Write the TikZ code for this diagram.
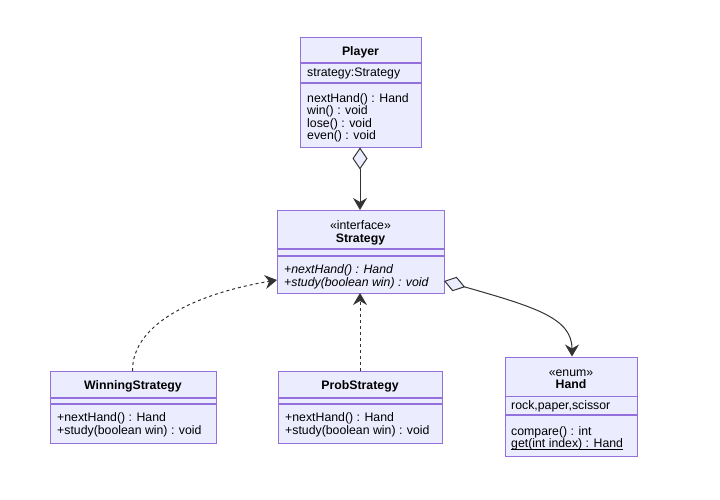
\documentclass[tikz,border=0pt]{standalone}
\usepackage{fontspec}
\setmainfont{Liberation Sans}
\usetikzlibrary{arrows.meta,calc}
\definecolor{boxfill}{HTML}{ECECFF}
\definecolor{boxline}{HTML}{9370DB}
\definecolor{edge}{HTML}{333333}
\begin{document}
\begin{tikzpicture}[x=1pt,y=-1pt,
  umlbox/.style={draw=boxline, fill=boxfill, line width=1.2pt, anchor=north west, inner sep=0pt},
  sep/.style={draw=boxline, line width=1.2pt},
  txt/.style={inner sep=0pt, yshift=-1.5pt, font=\fontsize{12.3}{13}\selectfont, text=black},
  lt/.style={txt, anchor=mid west},
  ct/.style={txt, anchor=mid},
  bt/.style={txt, anchor=mid, font=\fontsize{12.3}{13}\selectfont\bfseries},
  conn/.style={draw=edge, line width=1pt},
  headtip/.style={-{Stealth[length=12pt,width=14pt,inset=4pt]}},
  aggr/.style={{Diamond[open, fill=boxfill, length=22pt, width=15pt]}-{Stealth[length=12pt,width=14pt,inset=4pt]}}
]
\useasboundingbox (0,0) rectangle (720,500);
\fill[white] (0,0) rectangle (720,500);

% Player
\node[umlbox, minimum width=121pt, minimum height=110pt] (player) at (300,37) {};
\draw[sep] (300,63) -- (421,63);
\draw[sep] (300,83) -- (421,83);
\node[bt] (playerT) at (360.5,51) {Player};
\node[lt] (playerA) at (307,72) {strategy:Strategy};
\node[lt] (playerM1) at (307,98.5) {nextHand() : Hand};
\node[lt] (playerM2) at (307,110.5) {win() : void};
\node[lt] (playerM3) at (307,123) {lose() : void};
\node[lt] (playerM4) at (307,135) {even() : void};

% Strategy
\node[umlbox, minimum width=167pt, minimum height=83pt] (strategy) at (277,210) {};
\draw[sep] (277,249) -- (444,249);
\draw[sep] (277,256) -- (444,256);
\node[ct] (strategyS) at (360.5,225) {«interface»};
\node[bt] (strategyT) at (360.5,238) {Strategy};
\node[lt, font=\fontsize{12.3}{13}\selectfont\itshape] (strategyM1) at (284,269) {+nextHand() : Hand};
\node[lt, font=\fontsize{12.3}{13}\selectfont\itshape] (strategyM2) at (284,282) {+study(boolean win) : void};

% WinningStrategy
\node[umlbox, minimum width=166pt, minimum height=72pt] (winning) at (50,371) {};
\draw[sep] (50,398) -- (216,398);
\draw[sep] (50,404) -- (216,404);
\node[bt] (winningT) at (133,385) {WinningStrategy};
\node[lt] (winningM1) at (57,417) {+nextHand() : Hand};
\node[lt] (winningM2) at (57,430.5) {+study(boolean win) : void};

% ProbStrategy
\node[umlbox, minimum width=164pt, minimum height=72pt] (prob) at (278,371) {};
\draw[sep] (278,398) -- (442,398);
\draw[sep] (278,404) -- (442,404);
\node[bt] (probT) at (360,385) {ProbStrategy};
\node[lt] (probM1) at (285,417) {+nextHand() : Hand};
\node[lt] (probM2) at (285,430.5) {+study(boolean win) : void};

% Hand
\node[umlbox, minimum width=132pt, minimum height=99pt] (hand) at (505,356.5) {};
\draw[sep] (505,396.5) -- (637,396.5);
\draw[sep] (505,415) -- (637,415);
\node[ct] (handS) at (571,372) {«enum»};
\node[bt] (handT) at (571,384.5) {Hand};
\node[lt] (handA) at (511,405) {rock,paper,scissor};
\node[lt] (handM1) at (511,431) {compare() : int};
\node[lt] (handM2) at (511,443.5) {get(int index) : Hand};
\draw[black, line width=0.8pt] ($(handM2.south west)+(0,-1)$) -- ($(handM2.south east)+(0,-1)$);

% Connectors
\coordinate (pStart) at (360,147.5);
\coordinate (sTop) at (360,210);
\draw[conn, aggr] (pStart) -- (sTop);

\coordinate (sRight) at (444,281);
\coordinate (hTop) at (572,356.5);
\draw[conn, aggr] (sRight) .. controls (535,307) and (572,318) .. (hTop);

\coordinate (wTop) at (132.5,371);
\coordinate (sLeft) at (277,280);
\draw[conn, dashed, dash pattern=on 3pt off 3pt, headtip] (wTop) .. controls (132,322) and (200,293) .. (sLeft);

\coordinate (prTop) at (360,371);
\coordinate (sBot) at (360,293);
\draw[conn, dashed, dash pattern=on 3pt off 3pt, headtip] (prTop) -- (sBot);
\end{tikzpicture}
\end{document}
